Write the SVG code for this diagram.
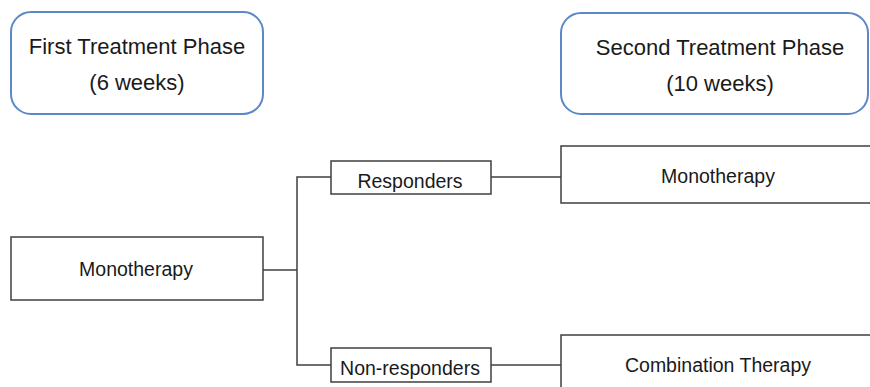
<svg xmlns="http://www.w3.org/2000/svg" width="870" height="387" viewBox="0 0 870 387">
<style>
.hdr{fill:#fff;stroke:#5b88c6;stroke-width:2}
.box{fill:#fff;stroke:#3f3f3f;stroke-width:1.5}
.ln{fill:none;stroke:#3f3f3f;stroke-width:1.5}
text{font-family:"Liberation Sans",Arial,sans-serif;fill:#1a1a1a;text-anchor:middle}
.h{font-size:22px}
.t{font-size:19.5px}
</style>
<rect width="870" height="387" fill="#fff"/>
<g id="connectors">
<polyline class="ln" points="263,270 297,270"/>
<polyline class="ln" points="331,177 297,177 297,365 331,365"/>
<polyline class="ln" points="491,177 561,177"/>
<polyline class="ln" points="491,365 561,365"/>
</g>
<g id="phase1"><rect class="hdr" x="11" y="12" width="252" height="102" rx="20"/><text class="h" x="137" y="54">First Treatment Phase</text><text class="h" x="137" y="90">(6 weeks)</text></g>
<g id="phase2"><rect class="hdr" x="561" y="13" width="307" height="101" rx="20"/><text class="h" x="720" y="55">Second Treatment Phase</text><text class="h" x="720" y="91">(10 weeks)</text></g>
<g id="mono1"><rect class="box" x="11" y="237" width="252" height="63"/><text class="t" x="136" y="276">Monotherapy</text></g>
<g id="responders"><rect class="box" x="331" y="161" width="160" height="33"/><text class="t" x="410" y="188">Responders</text></g>
<g id="nonresponders"><rect class="box" x="331" y="348" width="160" height="34"/><text class="t" x="410" y="375">Non-responders</text></g>
<g id="mono2"><rect class="box" x="561" y="146" width="315" height="57"/><text class="t" x="718" y="183">Monotherapy</text></g>
<g id="combo"><rect class="box" x="561" y="335" width="315" height="60"/><text class="t" x="718" y="372">Combination Therapy</text></g>
</svg>
